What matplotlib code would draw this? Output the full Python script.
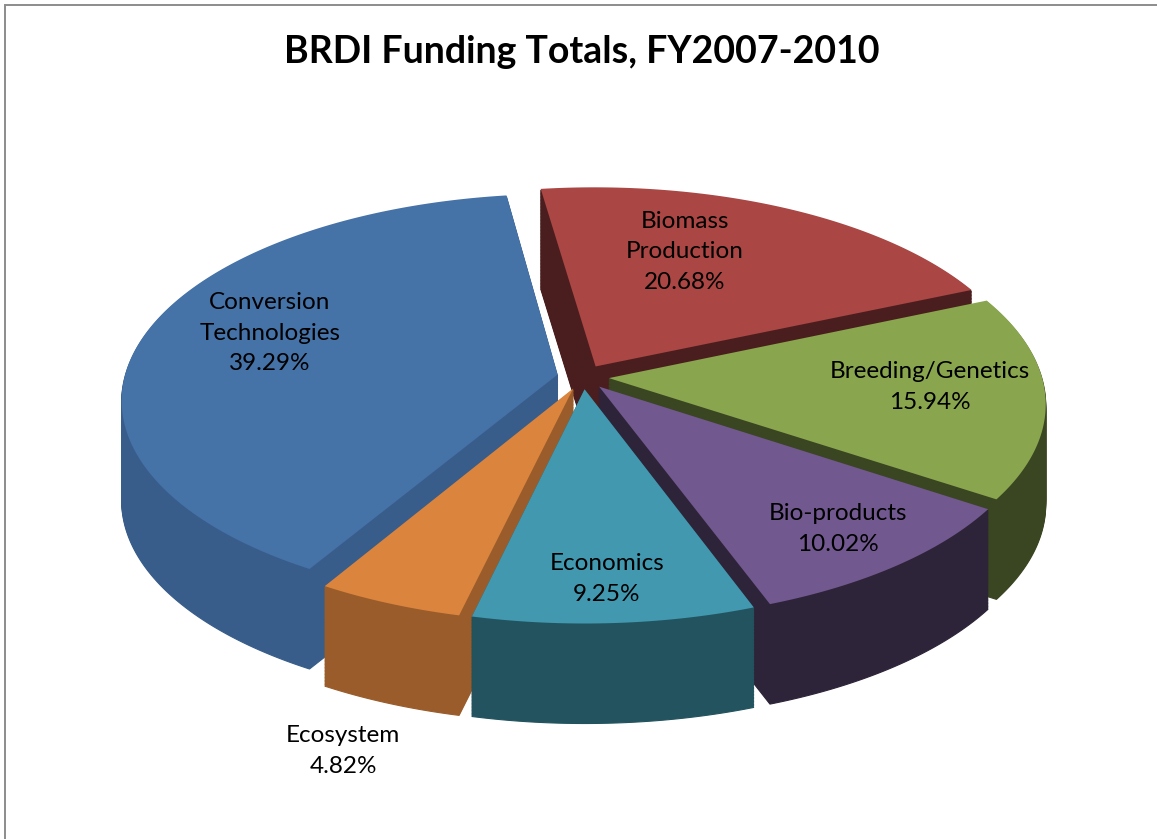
import numpy as np
import matplotlib.pyplot as plt
from matplotlib.patches import Polygon, Rectangle

# slices in Excel order: clockwise, starting near 12 o'clock
categories = ['Biomass\nProduction', 'Breeding/Genetics', 'Bio-products',
              'Economics', 'Ecosystem', 'Conversion\nTechnologies']
shares = [20.68, 15.94, 10.02, 9.25, 4.82, 39.29]

top_colors = ['#aa4643', '#89a54e', '#71588f', '#4198af', '#db843d', '#4572a7']
side_colors = ['#4a1e1e', '#3a4522', '#2e2439', '#22535e', '#9a5c2a', '#385d8a']

# label centres in pixels of the 1157x839 picture
label_pos = [(685, 252), (930, 387), (838, 529), (607, 579), (343, 751), (270, 333)]

W, H = 1157, 839
cx, cy = 583, 377      # pie centre on screen (pixels)
R, r = 433, 203        # semi axes of the top ellipse (pixels)
persp = 0.12           # foreshortening, back of the pie looks smaller
depth = 100            # thickness of the pie (pixels)
n_layers = 70
explode = [0.06] * len(shares)


def project(pts, drop=0.0):
    x, y = pts[:, 0], pts[:, 1]
    s = 1.0 / (1.0 + persp * y)
    return np.column_stack([cx + R * x * s, cy - r * y * s + drop])


fig = plt.figure(figsize=(W / 100, H / 100), dpi=100)
ax = fig.add_axes([0, 0, 1, 1])

# flat pie gives the slice geometry, then it is tilted into 3D
wedges, _ = ax.pie(shares, explode=explode, startangle=98, counterclock=False)
outlines = []
for w in wedges:
    t = np.radians(np.linspace(w.theta1, w.theta2, 240))
    x0, y0 = w.center
    arc = np.column_stack([x0 + w.r * np.cos(t), y0 + w.r * np.sin(t)])
    outlines.append(np.vstack([[x0, y0], arc]))
    w.remove()

# side walls: stack of darker copies pushed downwards
for k in range(n_layers, 0, -1):
    drop = depth * k / n_layers
    for poly, col in zip(outlines, side_colors):
        ax.add_patch(Polygon(project(poly, drop), closed=True, facecolor=col,
                             edgecolor=col, linewidth=0.8))

# top faces
for poly, col in zip(outlines, top_colors):
    ax.add_patch(Polygon(project(poly), closed=True, facecolor=col, linewidth=0))

ax.set_aspect('auto')
ax.set_xlim(0, W)
ax.set_ylim(H, 0)
ax.axis('off')

for name, val, (px, py) in zip(categories, shares, label_pos):
    ax.text(px, py, f'{name}\n{val:.2f}%', ha='center', va='center',
            fontsize=17.5, family='Lato', color='black', linespacing=1.55)

ax.text(582, 52, 'BRDI Funding Totals, FY2007-2010', ha='center', va='center',
        fontsize=27, fontweight='bold', family='Lato')

# chart area border (runs off the right and bottom edges)
fig.add_artist(Rectangle((5.5 / W, -0.1), 1.2, 1.1 - 5.5 / H, transform=fig.transFigure,
                         fill=False, edgecolor='#8c8c8c', linewidth=1.4))

fig.savefig('out.png', dpi=100)
